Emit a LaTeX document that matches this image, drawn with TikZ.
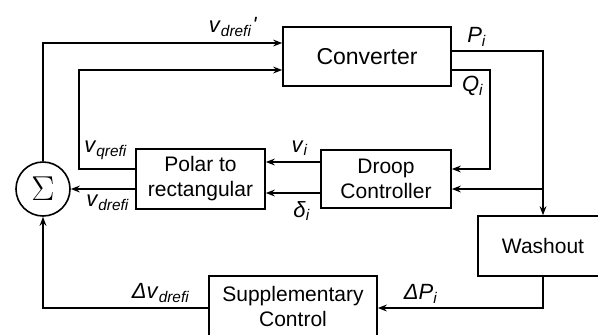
\documentclass[tikz,border=0pt]{standalone}
\usepackage[no-math]{fontspec}
\setmainfont{Liberation Sans}
\usetikzlibrary{positioning, arrows.meta}
\newcommand{\sig}[2]{\textit{#1}\textsubscript{\textit{#2}}}

\begin{document}
\begin{tikzpicture}[x=0.5pt, y=-0.5pt,
            block/.style={rectangle, draw, line width=0.8pt, align=center, inner sep=0pt,
                          font=\fontsize{10.5}{12.5}\selectfont},
            lbl/.style={inner sep=0pt, font=\fontsize{11}{13}\selectfont},
            arr/.style={line width=0.8pt, -{Stealth[length=4.5pt, width=3.4pt]}}
        ]
            \useasboundingbox (0,0) rectangle (598,334);

            % Blocks
            \node[block, minimum width=84pt, minimum height=29.5pt, font=\fontsize{11.5}{13}\selectfont] (conv) at (367,56.5) {Converter};
            \node[block, minimum width=65pt, minimum height=29pt] (droop) at (386,179) {Droop\\Controller};
            \node[block, minimum width=64.5pt, minimum height=30pt] (polar) at (200.5,179) {Polar to\\rectangular};
            \node[block, minimum width=65pt, minimum height=30pt] (wash) at (543,246) {Washout};
            \node[block, minimum width=84pt, minimum height=30pt] (supp) at (293,306) {Supplementary\\Control};
            \node[circle, draw, line width=0.8pt, minimum size=27pt, inner sep=0pt, font=\fontsize{17}{17}\selectfont] (sum) at (43,189) {$\Sigma$};

            % Converter inputs
            \draw[arr] (sum.north) |- ([yshift=6.75pt]conv.west);
            \draw[arr] ([yshift=5pt]polar.west) -- ++(-56,0) |- ([yshift=-6.75pt]conv.west);
            \draw[arr] ([yshift=-5pt]polar.west) -- (sum.east);
            \draw[arr] ([yshift=-1pt]supp.west) -| (sum.south);

            % Droop to polar
            \draw[arr] ([yshift=8.5pt]droop.west) -- ([yshift=8.5pt]polar.east);
            \draw[arr] ([yshift=-7pt]droop.west) -- ([yshift=-7pt]polar.east);

            % Converter outputs
            \draw[arr] ([yshift=2.75pt]conv.east) -| (wash.north);
            \draw[arr] ([yshift=-6.75pt]conv.east) -- ++(38,0) |- ([yshift=5pt]droop.east);
            \path ([yshift=-5pt]droop.east) coordinate (dpin);
            \draw[arr] (wash.north |- dpin) -- (dpin);
            \draw[arr] (wash.south) |- ([yshift=-1pt]supp.east);

            % Signal labels
            \node[lbl] (lvdp) at (233,27) {\sig{v}{drefi}\textit{\textquotesingle}};
            \node[lbl] (lp) at (477,37) {\sig{P}{i}};
            \node[lbl] (lq) at (473,86) {\sig{Q}{i}};
            \node[lbl] (lv) at (300,148) {\sig{v}{i}};
            \node[lbl] (ld) at (302,211) {\sig{δ}{i}};
            \node[lbl] (lvq) at (106,150) {\sig{v}{qrefi}};
            \node[lbl] (lvd) at (108,203) {\sig{v}{drefi}};
            \node[lbl] (ldv) at (161,293) {\textit{Δ}\sig{v}{drefi}};
            \node[lbl] (ldp) at (421,294) {\textit{Δ}\sig{P}{i}};
        \end{tikzpicture}
\end{document}
